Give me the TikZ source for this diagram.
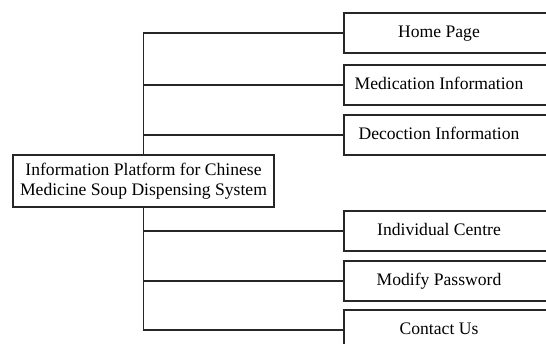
\documentclass[tikz,border=0pt]{standalone}
\usepackage{fontspec}
\setmainfont{Liberation Serif}
\begin{document}
\begin{tikzpicture}[x=1pt,y=-1pt,
  box/.style={draw=black!85, line width=2pt, minimum width=260pt, minimum height=40pt, inner sep=0pt, anchor=north west},
  lbl/.style={font=\fontsize{17.6}{20}\selectfont, inner sep=0pt, anchor=base},
  conn/.style={draw=black!85, line width=1.8pt}]
\clip (0,0) rectangle (546,344);
\fill[white] (0,0) rectangle (546,344);
% main box
\node[draw=black!85, line width=2pt, font=\fontsize{17.6}{20}\selectfont, inner sep=0pt, align=center, minimum width=261pt, minimum height=52pt] (main) at (143.5,181) {Information Platform for Chinese\\Medicine Soup Dispensing System};
% right boxes
\node[box] (home) at (343,12) {};
\node[box] (med) at (343,64) {};
\node[box] (dec) at (343,114) {};
\node[box] (ind) at (343,210) {};
\node[box] (mod) at (343,260) {};
\node[box] (con) at (343,309) {};
% labels
\node[lbl] (homet) at (439,37.5) {Home Page};
\node[lbl] (medt) at (439,89.5) {Medication Information};
\node[lbl] (dect) at (439,139.5) {Decoction Information};
\node[lbl] (indt) at (439,235.5) {Individual Centre};
\node[lbl] (modt) at (439,285.5) {Modify Password};
\node[lbl] (cont) at (439,334.5) {Contact Us};
% connectors
\draw[conn] (main.north) |- (home.west);
\draw[conn] (main.north) |- (med.west);
\draw[conn] (main.north) |- (dec.west);
\draw[conn] (main.south) |- (ind.west);
\draw[conn] (main.south) |- (mod.west);
\draw[conn] (main.south) |- (con.west);
\end{tikzpicture}
\end{document}
